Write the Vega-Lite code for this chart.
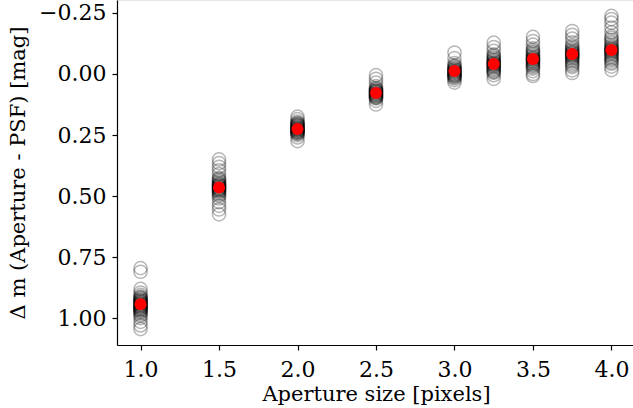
{
  "$schema": "https://vega.github.io/schema/vega-lite/v6.json",
  "width": 518,
  "height": 345,
  "autosize": {"type": "none"},
  "padding": {"left": 117, "top": 0, "right": 0, "bottom": 63},
  "background": "white",
  "config": {
    "view": {"stroke": "#e6e6e6", "strokeWidth": 1},
    "font": "DejaVu Serif",
    "axis": {
      "grid": false,
      "domainColor": "black",
      "domainWidth": 1.2,
      "tickColor": "black",
      "tickWidth": 1.2,
      "tickSize": 5,
      "labelFont": "DejaVu Serif",
      "labelFontSize": 22,
      "labelColor": "black",
      "titleFont": "DejaVu Serif",
      "titleFontSize": 21,
      "titleFontWeight": "normal",
      "titleColor": "black"
    }
  },
  "datasets": {
    "points": [
      {"aperture": 1.0, "dm": 0.795}, {"aperture": 1.0, "dm": 0.81}, {"aperture": 1.0, "dm": 0.88}, {"aperture": 1.0, "dm": 0.895},
      {"aperture": 1.0, "dm": 0.905}, {"aperture": 1.0, "dm": 0.912}, {"aperture": 1.0, "dm": 0.918}, {"aperture": 1.0, "dm": 0.925},
      {"aperture": 1.0, "dm": 0.93}, {"aperture": 1.0, "dm": 0.935}, {"aperture": 1.0, "dm": 0.94}, {"aperture": 1.0, "dm": 0.945},
      {"aperture": 1.0, "dm": 0.95}, {"aperture": 1.0, "dm": 0.955}, {"aperture": 1.0, "dm": 0.96}, {"aperture": 1.0, "dm": 0.965},
      {"aperture": 1.0, "dm": 0.97}, {"aperture": 1.0, "dm": 0.978}, {"aperture": 1.0, "dm": 0.985}, {"aperture": 1.0, "dm": 0.99},
      {"aperture": 1.0, "dm": 1.0}, {"aperture": 1.0, "dm": 1.015}, {"aperture": 1.0, "dm": 1.03}, {"aperture": 1.0, "dm": 1.045},
      {"aperture": 1.0, "dm": 0.915}, {"aperture": 1.0, "dm": 0.922}, {"aperture": 1.0, "dm": 0.928}, {"aperture": 1.0, "dm": 0.933},
      {"aperture": 1.0, "dm": 0.938}, {"aperture": 1.0, "dm": 0.942}, {"aperture": 1.0, "dm": 0.947}, {"aperture": 1.0, "dm": 0.952},
      {"aperture": 1.0, "dm": 0.957}, {"aperture": 1.0, "dm": 0.962}, {"aperture": 1.0, "dm": 0.968}, {"aperture": 1.0, "dm": 0.975},
      {"aperture": 1.5, "dm": 0.35}, {"aperture": 1.5, "dm": 0.365}, {"aperture": 1.5, "dm": 0.38}, {"aperture": 1.5, "dm": 0.395},
      {"aperture": 1.5, "dm": 0.41}, {"aperture": 1.5, "dm": 0.425}, {"aperture": 1.5, "dm": 0.435}, {"aperture": 1.5, "dm": 0.44},
      {"aperture": 1.5, "dm": 0.45}, {"aperture": 1.5, "dm": 0.455}, {"aperture": 1.5, "dm": 0.46}, {"aperture": 1.5, "dm": 0.465},
      {"aperture": 1.5, "dm": 0.47}, {"aperture": 1.5, "dm": 0.475}, {"aperture": 1.5, "dm": 0.48}, {"aperture": 1.5, "dm": 0.49},
      {"aperture": 1.5, "dm": 0.5}, {"aperture": 1.5, "dm": 0.51}, {"aperture": 1.5, "dm": 0.525}, {"aperture": 1.5, "dm": 0.54},
      {"aperture": 1.5, "dm": 0.555}, {"aperture": 1.5, "dm": 0.575},
      {"aperture": 1.5, "dm": 0.43}, {"aperture": 1.5, "dm": 0.445}, {"aperture": 1.5, "dm": 0.452}, {"aperture": 1.5, "dm": 0.458},
      {"aperture": 1.5, "dm": 0.462}, {"aperture": 1.5, "dm": 0.468}, {"aperture": 1.5, "dm": 0.472}, {"aperture": 1.5, "dm": 0.478},
      {"aperture": 1.5, "dm": 0.485}, {"aperture": 1.5, "dm": 0.495},
      {"aperture": 2.0, "dm": 0.175}, {"aperture": 2.0, "dm": 0.185}, {"aperture": 2.0, "dm": 0.195}, {"aperture": 2.0, "dm": 0.2},
      {"aperture": 2.0, "dm": 0.205}, {"aperture": 2.0, "dm": 0.21}, {"aperture": 2.0, "dm": 0.215}, {"aperture": 2.0, "dm": 0.22},
      {"aperture": 2.0, "dm": 0.225}, {"aperture": 2.0, "dm": 0.228}, {"aperture": 2.0, "dm": 0.232}, {"aperture": 2.0, "dm": 0.236},
      {"aperture": 2.0, "dm": 0.24}, {"aperture": 2.0, "dm": 0.245}, {"aperture": 2.0, "dm": 0.25}, {"aperture": 2.0, "dm": 0.26},
      {"aperture": 2.0, "dm": 0.275},
      {"aperture": 2.0, "dm": 0.203}, {"aperture": 2.0, "dm": 0.208}, {"aperture": 2.0, "dm": 0.213}, {"aperture": 2.0, "dm": 0.218},
      {"aperture": 2.0, "dm": 0.222}, {"aperture": 2.0, "dm": 0.226}, {"aperture": 2.0, "dm": 0.23}, {"aperture": 2.0, "dm": 0.234},
      {"aperture": 2.0, "dm": 0.238}, {"aperture": 2.0, "dm": 0.243},
      {"aperture": 2.5, "dm": 0.005}, {"aperture": 2.5, "dm": 0.02}, {"aperture": 2.5, "dm": 0.035}, {"aperture": 2.5, "dm": 0.05},
      {"aperture": 2.5, "dm": 0.058}, {"aperture": 2.5, "dm": 0.065}, {"aperture": 2.5, "dm": 0.07}, {"aperture": 2.5, "dm": 0.075},
      {"aperture": 2.5, "dm": 0.08}, {"aperture": 2.5, "dm": 0.085}, {"aperture": 2.5, "dm": 0.09}, {"aperture": 2.5, "dm": 0.095},
      {"aperture": 2.5, "dm": 0.1}, {"aperture": 2.5, "dm": 0.11}, {"aperture": 2.5, "dm": 0.125},
      {"aperture": 2.5, "dm": 0.06}, {"aperture": 2.5, "dm": 0.067}, {"aperture": 2.5, "dm": 0.072}, {"aperture": 2.5, "dm": 0.077},
      {"aperture": 2.5, "dm": 0.082}, {"aperture": 2.5, "dm": 0.087}, {"aperture": 2.5, "dm": 0.092}, {"aperture": 2.5, "dm": 0.098},
      {"aperture": 3.0, "dm": -0.088}, {"aperture": 3.0, "dm": -0.065}, {"aperture": 3.0, "dm": -0.045}, {"aperture": 3.0, "dm": -0.035},
      {"aperture": 3.0, "dm": -0.028}, {"aperture": 3.0, "dm": -0.02}, {"aperture": 3.0, "dm": -0.015}, {"aperture": 3.0, "dm": -0.01},
      {"aperture": 3.0, "dm": -0.005}, {"aperture": 3.0, "dm": 0.0}, {"aperture": 3.0, "dm": 0.005}, {"aperture": 3.0, "dm": 0.01},
      {"aperture": 3.0, "dm": 0.018}, {"aperture": 3.0, "dm": 0.025}, {"aperture": 3.0, "dm": 0.035},
      {"aperture": 3.0, "dm": -0.032}, {"aperture": 3.0, "dm": -0.024}, {"aperture": 3.0, "dm": -0.018}, {"aperture": 3.0, "dm": -0.012},
      {"aperture": 3.0, "dm": -0.008}, {"aperture": 3.0, "dm": -0.002}, {"aperture": 3.0, "dm": 0.003}, {"aperture": 3.0, "dm": 0.008},
      {"aperture": 3.0, "dm": 0.014},
      {"aperture": 3.25, "dm": -0.128}, {"aperture": 3.25, "dm": -0.11}, {"aperture": 3.25, "dm": -0.095}, {"aperture": 3.25, "dm": -0.08},
      {"aperture": 3.25, "dm": -0.07}, {"aperture": 3.25, "dm": -0.06}, {"aperture": 3.25, "dm": -0.052}, {"aperture": 3.25, "dm": -0.045},
      {"aperture": 3.25, "dm": -0.04}, {"aperture": 3.25, "dm": -0.035}, {"aperture": 3.25, "dm": -0.028}, {"aperture": 3.25, "dm": -0.02},
      {"aperture": 3.25, "dm": -0.012}, {"aperture": 3.25, "dm": -0.005}, {"aperture": 3.25, "dm": 0.005}, {"aperture": 3.25, "dm": 0.02},
      {"aperture": 3.25, "dm": -0.075}, {"aperture": 3.25, "dm": -0.065}, {"aperture": 3.25, "dm": -0.056}, {"aperture": 3.25, "dm": -0.048},
      {"aperture": 3.25, "dm": -0.042}, {"aperture": 3.25, "dm": -0.038}, {"aperture": 3.25, "dm": -0.032}, {"aperture": 3.25, "dm": -0.025},
      {"aperture": 3.25, "dm": -0.016}, {"aperture": 3.25, "dm": -0.008},
      {"aperture": 3.5, "dm": -0.152}, {"aperture": 3.5, "dm": -0.135}, {"aperture": 3.5, "dm": -0.12}, {"aperture": 3.5, "dm": -0.105},
      {"aperture": 3.5, "dm": -0.092}, {"aperture": 3.5, "dm": -0.082}, {"aperture": 3.5, "dm": -0.072}, {"aperture": 3.5, "dm": -0.065},
      {"aperture": 3.5, "dm": -0.06}, {"aperture": 3.5, "dm": -0.054}, {"aperture": 3.5, "dm": -0.048}, {"aperture": 3.5, "dm": -0.04},
      {"aperture": 3.5, "dm": -0.032}, {"aperture": 3.5, "dm": -0.022}, {"aperture": 3.5, "dm": -0.012}, {"aperture": 3.5, "dm": 0.0},
      {"aperture": 3.5, "dm": 0.008},
      {"aperture": 3.5, "dm": -0.098}, {"aperture": 3.5, "dm": -0.087}, {"aperture": 3.5, "dm": -0.077}, {"aperture": 3.5, "dm": -0.068},
      {"aperture": 3.5, "dm": -0.062}, {"aperture": 3.5, "dm": -0.057}, {"aperture": 3.5, "dm": -0.051}, {"aperture": 3.5, "dm": -0.044},
      {"aperture": 3.5, "dm": -0.036}, {"aperture": 3.5, "dm": -0.027},
      {"aperture": 3.75, "dm": -0.176}, {"aperture": 3.75, "dm": -0.16}, {"aperture": 3.75, "dm": -0.145}, {"aperture": 3.75, "dm": -0.13},
      {"aperture": 3.75, "dm": -0.118}, {"aperture": 3.75, "dm": -0.105}, {"aperture": 3.75, "dm": -0.095}, {"aperture": 3.75, "dm": -0.088},
      {"aperture": 3.75, "dm": -0.082}, {"aperture": 3.75, "dm": -0.076}, {"aperture": 3.75, "dm": -0.07}, {"aperture": 3.75, "dm": -0.062},
      {"aperture": 3.75, "dm": -0.052}, {"aperture": 3.75, "dm": -0.04}, {"aperture": 3.75, "dm": -0.028}, {"aperture": 3.75, "dm": -0.015},
      {"aperture": 3.75, "dm": -0.004},
      {"aperture": 3.75, "dm": -0.112}, {"aperture": 3.75, "dm": -0.1}, {"aperture": 3.75, "dm": -0.091}, {"aperture": 3.75, "dm": -0.085},
      {"aperture": 3.75, "dm": -0.079}, {"aperture": 3.75, "dm": -0.073}, {"aperture": 3.75, "dm": -0.066}, {"aperture": 3.75, "dm": -0.057},
      {"aperture": 3.75, "dm": -0.046}, {"aperture": 3.75, "dm": -0.034},
      {"aperture": 4.0, "dm": -0.238}, {"aperture": 4.0, "dm": -0.225}, {"aperture": 4.0, "dm": -0.21}, {"aperture": 4.0, "dm": -0.19},
      {"aperture": 4.0, "dm": -0.17}, {"aperture": 4.0, "dm": -0.155}, {"aperture": 4.0, "dm": -0.14}, {"aperture": 4.0, "dm": -0.125},
      {"aperture": 4.0, "dm": -0.112}, {"aperture": 4.0, "dm": -0.104}, {"aperture": 4.0, "dm": -0.098}, {"aperture": 4.0, "dm": -0.092},
      {"aperture": 4.0, "dm": -0.085}, {"aperture": 4.0, "dm": -0.075}, {"aperture": 4.0, "dm": -0.065}, {"aperture": 4.0, "dm": -0.055},
      {"aperture": 4.0, "dm": -0.042}, {"aperture": 4.0, "dm": -0.03}, {"aperture": 4.0, "dm": -0.016},
      {"aperture": 4.0, "dm": -0.148}, {"aperture": 4.0, "dm": -0.132}, {"aperture": 4.0, "dm": -0.118}, {"aperture": 4.0, "dm": -0.108},
      {"aperture": 4.0, "dm": -0.101}, {"aperture": 4.0, "dm": -0.095}, {"aperture": 4.0, "dm": -0.088}, {"aperture": 4.0, "dm": -0.08},
      {"aperture": 4.0, "dm": -0.07}, {"aperture": 4.0, "dm": -0.06}, {"aperture": 4.0, "dm": -0.048}
    ],
    "medians": [
      {"aperture": 1.0, "dm": 0.943}, {"aperture": 1.5, "dm": 0.465}, {"aperture": 2.0, "dm": 0.225},
      {"aperture": 2.5, "dm": 0.078}, {"aperture": 3.0, "dm": -0.012}, {"aperture": 3.25, "dm": -0.041},
      {"aperture": 3.5, "dm": -0.061}, {"aperture": 3.75, "dm": -0.082}, {"aperture": 4.0, "dm": -0.098}
    ]
  },
  "encoding": {
    "x": {
      "field": "aperture", "type": "quantitative",
      "scale": {"domain": [0.85, 4.15], "nice": false, "zero": false},
      "axis": {"values": [1.0, 1.5, 2.0, 2.5, 3.0, 3.5, 4.0], "format": ".1f", "title": "Aperture size [pixels]", "labelPadding": 9, "titlePadding": 3}
    },
    "y": {
      "field": "dm", "type": "quantitative",
      "scale": {"domain": [-0.303, 1.11], "reverse": true, "nice": false, "zero": false},
      "axis": {"values": [-0.25, 0, 0.25, 0.5, 0.75, 1.0], "format": ".2f", "title": "Δ m (Aperture - PSF) [mag]", "labelPadding": 6, "titlePadding": 10}
    }
  },
  "layer": [
    {
      "data": {"name": "points"},
      "mark": {"type": "point", "shape": "circle", "filled": false, "stroke": "black", "strokeOpacity": 0.4, "strokeWidth": 1.5, "size": 175}
    },
    {
      "data": {"name": "medians"},
      "mark": {"type": "circle", "color": "red", "opacity": 1, "size": 145}
    }
  ]
}
